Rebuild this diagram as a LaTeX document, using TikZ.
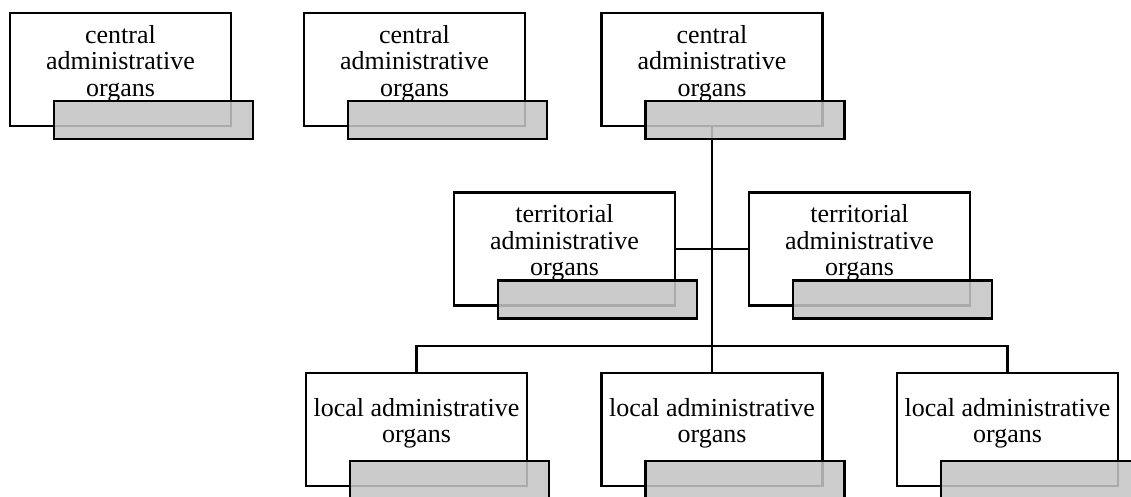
\documentclass[tikz,border=0pt]{standalone}
\usepackage{fontspec}
\setmainfont{Liberation Serif}
\begin{document}
\begin{tikzpicture}[x=1pt,y=-1pt,
  whitebox/.style={draw=black,line width=2.8pt,fill=white,minimum width=221pt,minimum height=113pt,inner sep=0pt,outer sep=0pt},
  graybox/.style={draw=black,line width=2.8pt,fill={rgb,255:red,196;green,196;blue,196},fill opacity=0.87,minimum width=199pt,minimum height=38pt,inner sep=0pt,outer sep=0pt},
  lbl/.style={align=center,inner sep=0pt,font=\fontsize{26pt}{26.5pt}\selectfont},
  conn/.style={line width=2.6pt,line cap=rect}]
\useasboundingbox (0,0) rectangle (1131,497);
% coordinates of white box centres
\coordinate (pc1) at (120.5,69.5);
\coordinate (pc2) at (414.5,69.5);
\coordinate (pc3) at (712,69.5);
\coordinate (pt1) at (564.5,249);
\coordinate (pt2) at (859.5,249);
\coordinate (pl1) at (416.5,429.5);
\coordinate (pl2) at (712,429.5);
\coordinate (pl3) at (1007.5,429.5);
% white boxes
\foreach \n in {c1,c2,c3,t1,t2,l1,l2,l3}{
  \node[whitebox] (w\n) at (p\n) {};
}
% connectors
\coordinate (jl) at (712,346);
\draw[conn] (wc3.south) -- (jl);
\draw[conn] (wt1.east) -- (wt2.west);
\draw[conn] (wl1.north) |- (jl) -| (wl3.north);
\draw[conn] (jl) -- (wl2.north);
% redraw white boxes over connectors
\foreach \n in {c1,c2,c3,t1,t2,l1,l2,l3}{
  \node[whitebox] at (p\n) {};
}
% texts
\foreach \n in {c1,c2,c3}{
  \node[lbl] (x\n) at ([yshift=6pt]w\n.center) {central\\administrative\\organs};
}
\foreach \n in {t1,t2}{
  \node[lbl] (x\n) at ([yshift=6pt]w\n.center) {territorial\\administrative\\organs};
}
\foreach \n in {l1,l2,l3}{
  \node[lbl] (x\n) at ([yshift=6pt]w\n.center) {local administrative\\organs};
}
% grey boxes
\foreach \n in {c1,c2,c3,t1,t2,l1,l2,l3}{
  \node[graybox] (g\n) at ([xshift=33pt,yshift=-50.5pt]w\n.center) {};
}
\end{tikzpicture}
\end{document}
